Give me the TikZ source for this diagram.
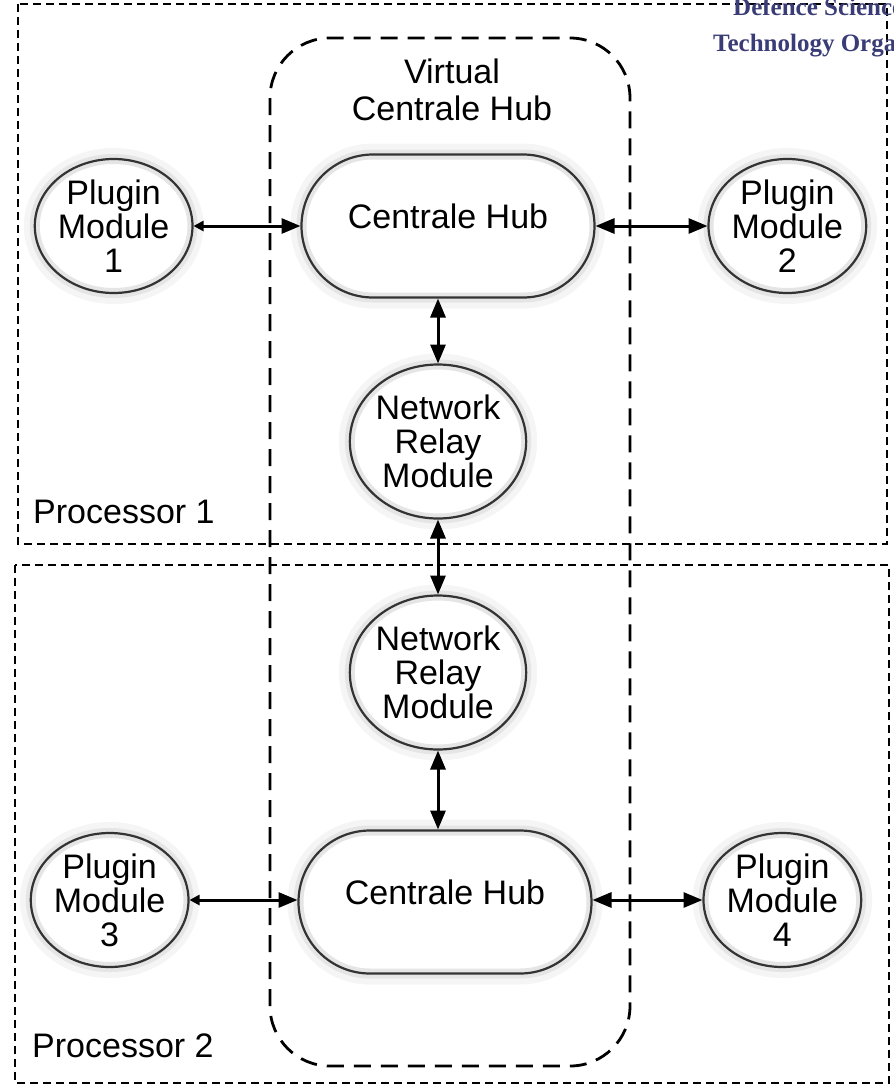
\documentclass[tikz,border=0pt]{standalone}
\usepackage{fontspec}
\setmainfont{Liberation Sans}
\newfontfamily\orgfont{Liberation Serif}
\usepackage{xcolor}
\usetikzlibrary{arrows.meta,positioning,shapes.geometric,shapes.misc}

\definecolor{orgblue}{RGB}{58,60,118}

\begin{document}
\begin{tikzpicture}[
    x=1pt, y=-1pt,
    node distance=70pt,
    font=\fontsize{34}{34}\selectfont,
    glow/.style={fill=white, draw=black!10, line width=10pt, outer sep=1pt,
        preaction={draw=black!4, line width=22pt},
        postaction={draw=black!80, line width=2.2pt}},
    module/.style={glow, ellipse, inner sep=0pt, align=center,
        minimum width=157pt, minimum height=134pt},
    relay/.style={glow, ellipse, inner sep=0pt, align=center,
        minimum width=172pt, minimum height=154pt},
    hub/.style={glow, rounded rectangle, inner sep=0pt, text depth=20pt,
        minimum width=293pt, minimum height=143pt},
    procbox/.style={draw, line width=2pt, dash pattern=on 8pt off 5pt},
    vhubbox/.style={draw, line width=2.8pt, dash pattern=on 17pt off 10pt, rounded corners=60pt},
    link/.style={line width=3pt, arrows={Triangle[length=19pt,width=15pt]-Triangle[length=19pt,width=15pt]}},
    shortlink/.style={line width=3pt, arrows={Triangle[length=10pt,width=10pt]-Triangle[length=19pt,width=15pt]}},
    orglabel/.style={text=orgblue, font=\orgfont\bfseries\fontsize{25}{25}\selectfont, inner sep=0pt}
]
\useasboundingbox (0,0) rectangle (894,1085);

% processors and the virtual hub
\draw[procbox] (18,4) rectangle (887,544);
\draw[procbox] (15,565) rectangle (889,1083);
\draw[vhubbox] (270,38) rectangle (630,1066);

\node[orglabel, anchor=base west] (org1) at (733,15) {Defence Science and};
\node[orglabel, anchor=base west] (org2) at (713,51) {Technology Organisation};

\node[align=center, font=\fontsize{34}{37}\selectfont] (vlabel) at (452,90) {Virtual\\Centrale Hub};
\node[anchor=base west, inner sep=0pt] (proc1) at (33,523) {Processor 1};
\node[anchor=base west, inner sep=0pt] (proc2) at (32,1057) {Processor 2};

% processor 1
\node[hub] (hub1) at (448,226) {Centrale Hub};
\node[module, left=107pt of hub1] (plug1) {Plugin\\Module\\1};
\node[module, right=112pt of hub1] (plug2) {Plugin\\Module\\2};
\node[relay, below=65pt of hub1, xshift=-10pt] (relay1) {Network\\Relay\\Module};

% processor 2
\node[relay, below=75pt of relay1] (relay2) {Network\\Relay\\Module};
\node[hub, below=79pt of relay2, xshift=7pt] (hub2) {Centrale Hub};
\node[module, left=108pt of hub2, yshift=2pt] (plug3) {Plugin\\Module\\3};
\node[module, right=110pt of hub2, yshift=2pt] (plug4) {Plugin\\Module\\4};

\draw[shortlink] (plug1.east) -- (plug1.east -| hub1.west);
\draw[link] (hub1.east) -- (hub1.east -| plug2.west);
\draw[link] (relay1.north |- hub1.south) -- (relay1.north);
\draw[link] (relay1.south) -- (relay2.north);
\draw[link] (relay2.south) -- (relay2.south |- hub2.north);
\draw[shortlink] (plug3.east) -- (plug3.east -| hub2.west);
\draw[link] (hub2.east |- plug4.west) -- (plug4.west);
\end{tikzpicture}
\end{document}
